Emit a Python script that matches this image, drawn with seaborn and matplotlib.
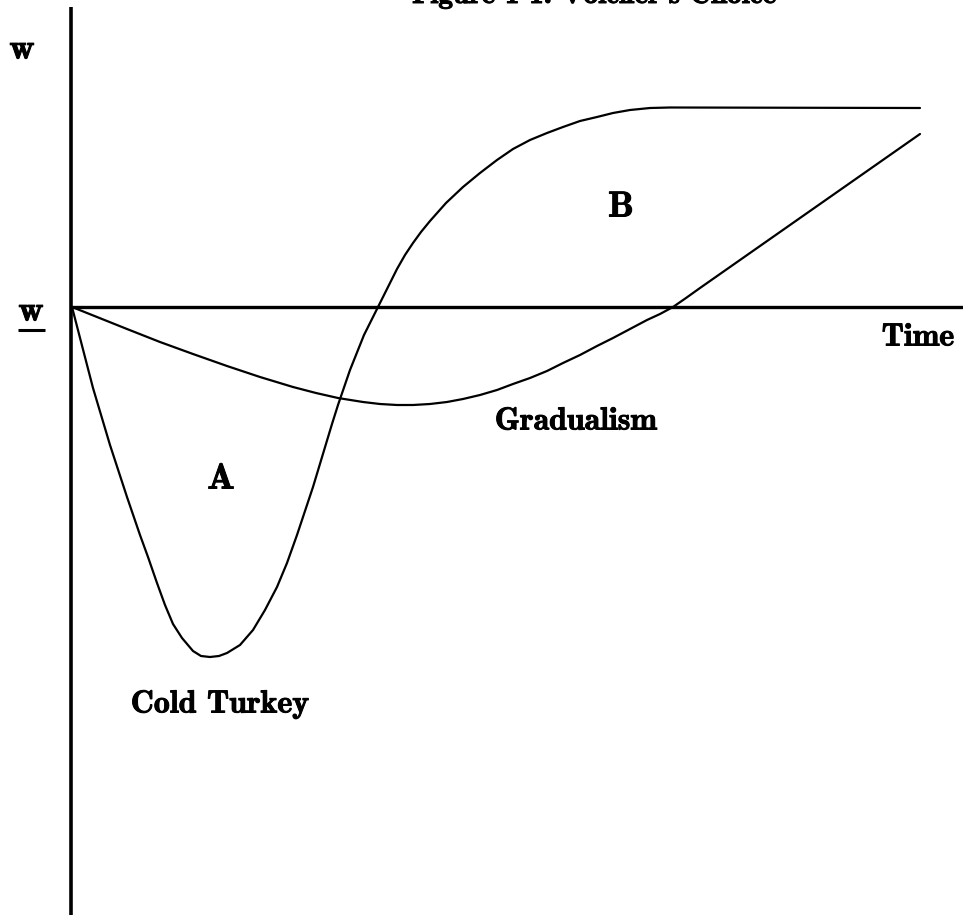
import matplotlib
matplotlib.use("Agg")
import matplotlib.pyplot as plt
import matplotlib.patheffects as pe
import seaborn as sns
import pandas as pd

# ---- data (time, deviation of w from w-underbar) ----
cold_t = [0, 0.21, 0.38, 0.55, 0.68, 0.76, 0.85, 0.93, 1.01, 1.10, 1.21, 1.29, 1.38, 1.47, 1.55, 1.68,
          1.81, 1.93, 2.05, 2.15, 2.25, 2.41, 2.60, 2.66, 2.78, 2.92, 3.06, 3.16, 3.25, 3.33, 3.41, 3.49,
          3.58, 3.74, 3.91, 4.08, 4.25, 4.41, 4.58, 4.75, 4.91, 5.08, 5.25, 5.41, 5.58, 5.78, 5.98, 8.48]
cold_w = [0, -0.81, -1.38, -1.90, -2.28, -2.50, -2.76, -2.98, -3.17, -3.31, -3.44, -3.49, -3.50, -3.49, -3.46, -3.38,
          -3.23, -3.03, -2.80, -2.56, -2.28, -1.80, -1.17, -0.98, -0.63, -0.28, 0, 0.20, 0.38, 0.52, 0.64, 0.75,
          0.86, 1.04, 1.20, 1.34, 1.47, 1.58, 1.67, 1.74, 1.80, 1.86, 1.90, 1.94, 1.97, 1.99, 1.995, 1.99]

grad_t = [0, 0.55, 0.88, 1.21, 1.55, 1.88, 2.21, 2.44, 2.66, 2.91, 3.08, 3.25, 3.41, 3.58, 3.75, 3.91,
          4.08, 4.25, 4.41, 4.58, 4.75, 4.91, 5.08, 5.25, 5.41, 5.58, 5.75, 5.88, 6.01, 6.14, 6.28, 8.48]
grad_w = [0, -0.22, -0.35, -0.47, -0.59, -0.70, -0.80, -0.86, -0.91, -0.95, -0.97, -0.98, -0.98, -0.97, -0.95, -0.92,
          -0.88, -0.83, -0.77, -0.71, -0.64, -0.56, -0.48, -0.39, -0.31, -0.22, -0.13, -0.07, 0, 0.09, 0.19, 1.73]

title = "Figure 1-1: Volcker's Choice"
labels = {"cold": "Cold Turkey", "grad": "Gradualism", "A": "A", "B": "B", "time": "Time", "w": "w"}

sns.set_theme(style="white")
plt.rcParams["font.family"] = ["cmb10", "DejaVu Serif"]
plt.rcParams["text.color"] = "black"

fig = plt.figure(figsize=(9.63, 9.15), dpi=100)
ax = fig.add_axes([0, 0, 1, 1])
ax.set_xlim(-0.72, 8.91)
ax.set_ylim(-6.08, 3.07)
ax.axis("off")

df_cold = pd.DataFrame({"t": cold_t, "w": cold_w})
df_grad = pd.DataFrame({"t": grad_t, "w": grad_w})
sns.lineplot(data=df_cold, x="t", y="w", sort=False, estimator=None, color="black", lw=1.6, ax=ax)
sns.lineplot(data=df_grad, x="t", y="w", sort=False, estimator=None, color="black", lw=1.6, ax=ax)
for ln in ax.lines:
    ln.set_solid_joinstyle("round")

# axes
ax.plot([-0.015, -0.015], [-6.08, 3.00], color="black", lw=2.6, solid_capstyle="butt")
ax.plot([0, 8.91], [0, 0], color="black", lw=2.4, solid_capstyle="butt")

heavy = [pe.withStroke(linewidth=0.7, foreground="black")]
fs = 23
ax.text(-0.50, 2.57, labels["w"], fontsize=25, ha="center", va="center", path_effects=heavy)
ax.text(-0.41, -0.05, labels["w"], fontsize=25, ha="center", va="center", path_effects=heavy)
ax.plot([-0.54, -0.27], [-0.23, -0.23], color="black", lw=2.2, solid_capstyle="butt")
ax.text(8.46, -0.30, labels["time"], fontsize=fs, ha="center", va="center", path_effects=heavy)
ax.text(5.49, 0.99, labels["B"], fontsize=26, ha="center", va="center", path_effects=heavy)
ax.text(1.49, -1.73, labels["A"], fontsize=26, ha="center", va="center", path_effects=heavy)
ax.text(5.04, -1.14, labels["grad"], fontsize=fs, ha="center", va="center", path_effects=heavy)
ax.text(1.48, -3.97, labels["cold"], fontsize=fs, ha="center", va="center", path_effects=heavy)

fig.text(594 / 963, 1 - 3 / 915, title, fontsize=21, ha="center", va="baseline", path_effects=heavy)

fig.savefig("out.png", dpi=100, facecolor="white")
